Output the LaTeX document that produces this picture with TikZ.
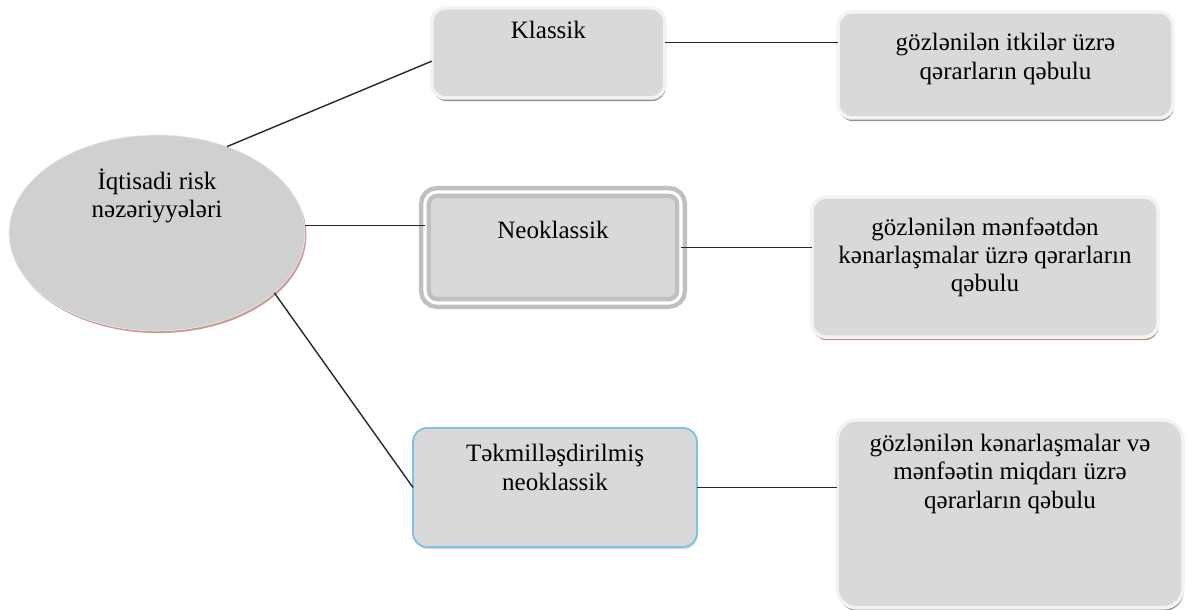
\documentclass[tikz,border=0pt]{standalone}
\usepackage{fontspec}
\setmainfont{Liberation Serif}
\usetikzlibrary{positioning, shapes.geometric, shadows}

\definecolor{boxgray}{RGB}{217,217,218}
\definecolor{rimgray}{RGB}{243,243,243}
\definecolor{shadegray}{RGB}{135,135,135}
\definecolor{rosegray}{RGB}{185,130,120}
\definecolor{ringgray}{RGB}{192,192,192}
\definecolor{skyline}{RGB}{125,196,222}
\definecolor{linkgray}{RGB}{40,40,40}

\tikzset{
  txt/.style={font=\fontsize{17.8}{20}\selectfont, align=center, text=black},
  plainbox/.style={rectangle, rounded corners=0.35cm, fill=boxgray, draw=rimgray, line width=2.5pt, outer sep=0pt,
    drop shadow={shadow xshift=0.6pt, shadow yshift=-2.2pt, fill=#1, opacity=0.9}},
  plainbox/.default=shadegray,
  link/.style={draw=linkgray, line width=1pt}
}

\begin{document}
\begin{tikzpicture}[
    ovalnode/.style={ellipse, fill=boxgray!96!black, draw=gray!15, outer sep=0pt,
      drop shadow={shadow xshift=1pt, shadow yshift=-1.5pt, fill=rosegray, opacity=0.8}},
    neobox/.style={rectangle, rounded corners=0.3cm, fill=boxgray, draw=ringgray, double=white,
      double distance=2.2pt, line width=3.2pt, outer sep=0pt},
    tekbox/.style={rectangle, rounded corners=0.35cm, fill=boxgray, draw=skyline, line width=1.3pt, outer sep=0pt,
      drop shadow={shadow xshift=0.5pt, shadow yshift=-1.5pt, fill=gray!45, opacity=0.7}}]

    \useasboundingbox (0,0) rectangle (29.75,15.25);

    % Root oval
    \node (ell) [ovalnode, minimum width=7.4cm, minimum height=4.9cm,
      label={[txt, yshift=0.925cm]center:{İqtisadi risk\\nəzəriyyələri}}] at (3.925,9.425) {};

    % Middle column nodes
    \node (klassik) [plainbox, minimum width=5.83cm, minimum height=2.25cm,
      label={[txt, yshift=0.575cm]center:Klassik}] at (13.71,13.925) {};
    \node (neo) [neobox, minimum width=6.4cm, minimum height=2.775cm,
      label={[txt, yshift=0.43cm]center:Neoklassik}] at (13.825,9.0625) {};
    \node (tek) [tekbox, minimum width=7.1cm, minimum height=2.975cm,
      label={[txt, yshift=0.5cm]center:{Təkmilləşdirilmiş\\neoklassik}}] at (13.875,3.0625) {};

    % Right column nodes
    \node (itki) [plainbox, minimum width=8.375cm, minimum height=2.65cm, right=4.325cm of klassik, yshift=-0.3cm,
      label={[txt, yshift=0.15cm]center:{gözlənilən itkilər üzrə\\qərarların qəbulu}}] {};
    \node (mf) [plainbox=rosegray, minimum width=8.65cm, minimum height=3.5cm, right=3.275cm of neo, yshift=-0.49cm,
      label={[txt, yshift=0.25cm]center:{gözlənilən mənfəətdən\\kənarlaşmalar üzrə qərarların\\qəbulu}}] {};
    \node (kn) [plainbox, rounded corners=0.5cm, minimum width=8.65cm, minimum height=4.7cm, right=3.5cm of tek, yshift=-0.66cm,
      label={[txt, yshift=1cm]center:{gözlənilən kənarlaşmalar və\\mənfəətin miqdarı üzrə\\qərarların qəbulu}}] {};

    % Lines from the oval to the middle column
    \draw[link] (ell.51) -- (klassik.184);
    \draw[link] (ell.3) -- (ell.3 -| neo.west);
    \draw[link] (ell.-27.5) -- (tek.west);

    % Lines from the middle column to the right column
    \draw[link] (klassik.5) -- (klassik.5 -| itki.west);
    \draw[link] (neo.east) -- (neo.east -| mf.west);
    \draw[link] (tek.east) -- (tek.east -| kn.west);

\end{tikzpicture}
\end{document}
